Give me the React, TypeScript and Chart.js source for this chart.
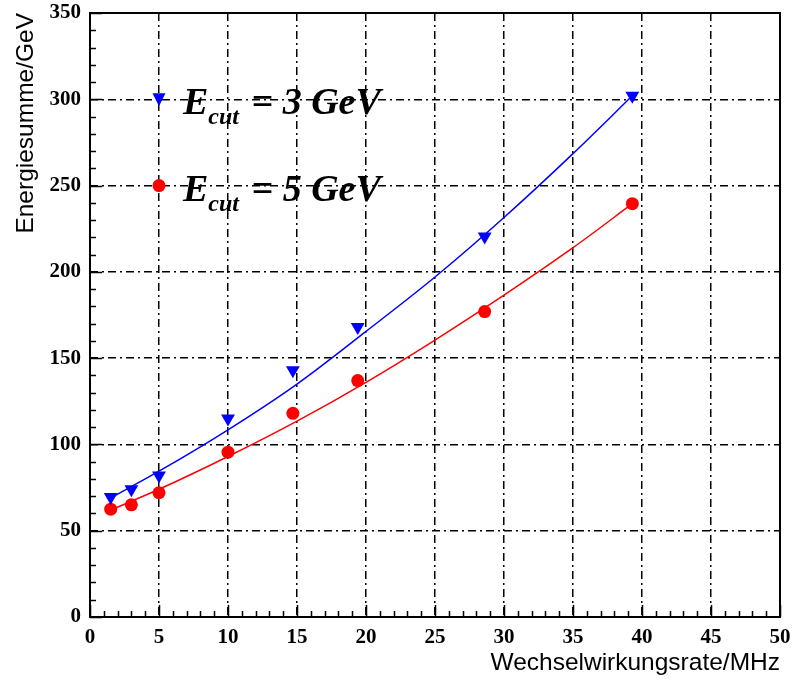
import React, { useEffect, useRef } from "react";
import { Chart, registerables } from "chart.js";

Chart.register(...registerables);

// Measured points: interaction rate (MHz) vs. summed energy (GeV)
const rateMHz = [1.5, 3, 5, 10, 14.7, 19.4, 28.6, 39.3];
const energyCut3 = [69.5, 74, 82, 115, 143, 168, 220.5, 302];
const energyCut5 = [62.5, 65, 72, 95.5, 118, 137, 177, 239.5];

// Fitted curves, sampled along the rate axis
const fitRate = [1.5, 5, 10, 15, 20, 25, 30, 35, 39.3];
const fitCut3 = [69, 84.5, 108.5, 135, 165.5, 197, 231.5, 268.5, 302];
const fitCut5 = [62, 74, 93, 113.5, 136, 160.5, 186.5, 214, 239.5];

const legendLabels = [
  { sub: "cut", rest: " = 3 GeV" },
  { sub: "cut", rest: " = 5 GeV" },
];

const BLUE = "#0000ff";
const RED = "#ff0000";
const GRID_DASH = [8, 4, 2, 4];

const pts = (xs: number[], ys: number[]) => xs.map((x, i) => ({ x, y: ys[i] }));

// Frame, inward minor/major ticks along the left and bottom axes
const framePlugin = {
  id: "frame",
  afterDraw(chart: any) {
    const { ctx, chartArea: a, scales } = chart;
    const xs = scales.x;
    const ys = scales.y;
    ctx.save();
    ctx.strokeStyle = "#000";
    ctx.lineWidth = 1.5;
    ctx.beginPath();
    for (let v = 0; v <= 50; v += 1) {
      const px = Math.round(xs.getPixelForValue(v)) + 0.5;
      const len = v % 5 === 0 ? 12 : 6;
      ctx.moveTo(px, a.bottom);
      ctx.lineTo(px, a.bottom - len);
    }
    for (let v = 0; v <= 350; v += 10) {
      const py = Math.round(ys.getPixelForValue(v)) + 0.5;
      const len = v % 50 === 0 ? 12 : 6;
      ctx.moveTo(a.left, py);
      ctx.lineTo(a.left + len, py);
    }
    ctx.stroke();
    ctx.lineWidth = 2;
    ctx.strokeRect(a.left, a.top, a.right - a.left, a.bottom - a.top);
    ctx.restore();
  },
};

// In-plot legend with subscripted labels
const legendPlugin = {
  id: "fitLegend",
  afterDatasetsDraw(chart: any) {
    const { ctx, scales } = chart;
    const xs = scales.x;
    const ys = scales.y;
    const entries = [
      { y: 300, color: BLUE, shape: "tri", label: legendLabels[0] },
      { y: 250, color: RED, shape: "dot", label: legendLabels[1] },
    ];
    ctx.save();
    for (const e of entries) {
      const mx = xs.getPixelForValue(5);
      const my = ys.getPixelForValue(e.y);
      ctx.fillStyle = e.color;
      ctx.beginPath();
      if (e.shape === "tri") {
        ctx.moveTo(mx - 6.5, my - 6);
        ctx.lineTo(mx + 6.5, my - 6);
        ctx.lineTo(mx, my + 7);
        ctx.closePath();
      } else {
        ctx.arc(mx, my, 6.5, 0, Math.PI * 2);
      }
      ctx.fill();

      ctx.fillStyle = "#000";
      ctx.textBaseline = "alphabetic";
      ctx.textAlign = "left";
      const base = my + 15;
      let tx = mx + 24;
      ctx.font = "italic bold 38px 'Liberation Serif'";
      ctx.fillText("E", tx, base);
      tx += ctx.measureText("E").width;
      ctx.font = "italic bold 24px 'Liberation Serif'";
      ctx.fillText(e.label.sub, tx, base + 10);
      tx += ctx.measureText(e.label.sub).width + 3;
      ctx.font = "italic bold 38px 'Liberation Serif'";
      ctx.fillText(e.label.rest, tx, base);
    }
    ctx.restore();
  },
};

export default function App() {
  const canvasRef = useRef<HTMLCanvasElement | null>(null);

  useEffect(() => {
    const canvas = canvasRef.current;
    if (!canvas) return;
    const tickFont = { family: "'Liberation Serif'", size: 21, weight: "bold" as const };
    const titleFont = { family: "'Liberation Sans'", size: 24.5 };
    const chart = new Chart(canvas, {
      type: "scatter",
      data: {
        datasets: [
          {
            data: pts(rateMHz, energyCut3),
            backgroundColor: BLUE,
            borderColor: BLUE,
            pointStyle: "triangle",
            rotation: 180,
            pointRadius: 8,
            borderWidth: 0,
            order: 0,
          },
          {
            data: pts(rateMHz, energyCut5),
            backgroundColor: RED,
            borderColor: RED,
            pointStyle: "circle",
            pointRadius: 6.5,
            borderWidth: 0,
            order: 0,
          },
          {
            data: pts(fitRate, fitCut3),
            showLine: true,
            borderColor: BLUE,
            borderWidth: 1.5,
            pointRadius: 0,
            cubicInterpolationMode: "monotone",
            order: 1,
          },
          {
            data: pts(fitRate, fitCut5),
            showLine: true,
            borderColor: RED,
            borderWidth: 1.5,
            pointRadius: 0,
            cubicInterpolationMode: "monotone",
            order: 1,
          },
        ],
      },
      options: {
        responsive: false,
        animation: false,
        layout: { padding: { top: 13, right: 12, left: 0, bottom: 0 } },
        plugins: { legend: { display: false }, tooltip: { enabled: false } },
        scales: {
          x: {
            type: "linear",
            min: 0,
            max: 50,
            ticks: { stepSize: 5, color: "#000", font: tickFont, padding: 8, maxRotation: 0 },
            grid: { color: "#000", lineWidth: 1.5, drawTicks: false },
            border: { display: false, dash: GRID_DASH },
            title: {
              display: true,
              text: "Wechselwirkungsrate/MHz",
              color: "#000",
              font: titleFont,
              align: "end",
              padding: { top: 0, bottom: 4 },
            },
            afterFit(scale: any) {
              scale.height = 65;
              scale.paddingLeft = 0;
              scale.paddingRight = 0;
            },
          },
          y: {
            type: "linear",
            min: 0,
            max: 350,
            ticks: { stepSize: 50, color: "#000", font: tickFont, padding: 9 },
            grid: { color: "#000", lineWidth: 1.5, drawTicks: false },
            border: { display: false, dash: GRID_DASH },
            title: {
              display: true,
              text: "Energiesumme/GeV",
              color: "#000",
              font: titleFont,
              align: "end",
              padding: { top: 12, bottom: 0 },
            },
            afterFit(scale: any) {
              scale.width = 90;
              scale.paddingTop = 0;
              scale.paddingBottom = 0;
            },
          },
        },
      },
      plugins: [framePlugin, legendPlugin],
    });
    return () => chart.destroy();
  }, []);

  return (
    <div style={{ position: "fixed", left: 0, top: 0, width: 792, height: 682, background: "#fff" }}>
      <canvas ref={canvasRef} width={792} height={682} style={{ display: "block" }} />
    </div>
  );
}
